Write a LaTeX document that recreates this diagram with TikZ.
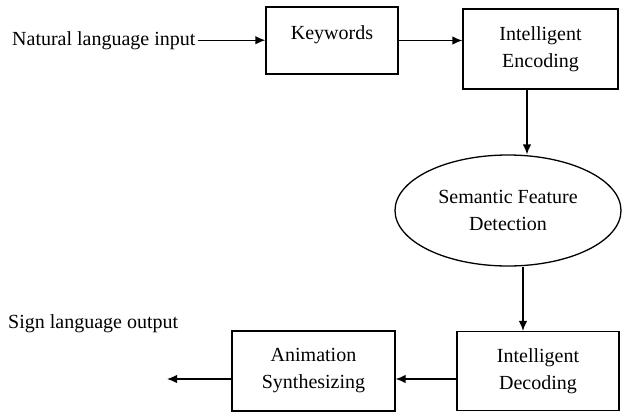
\documentclass[tikz,border=0pt]{standalone}
\usepackage{fontspec}
\setmainfont{Liberation Serif}
\usetikzlibrary{arrows.meta,shapes.geometric}
\begin{document}
\begin{tikzpicture}[x=1pt,y=-1pt,
  every node/.style={font=\fontsize{20}{27}\selectfont},
  box/.style={draw,line width=1.3pt,rectangle,inner sep=0pt,align=center},
  oval/.style={draw,line width=1.3pt,ellipse,inner sep=0pt,align=center},
  lbl/.style={inner sep=2pt},
  arr/.style={line width=1.3pt,-{Latex[length=10pt,width=8.5pt]}}]
\useasboundingbox (0,0) rectangle (622,416);
\node[lbl,anchor=base west] (nat) at (10,45) {Natural language input};
\node[box,minimum width=132pt,text height=32pt,text depth=35pt] (kw) at (332,40.5) {Keywords};
\node[box,minimum width=155pt,minimum height=80pt] (enc) at (540.5,49) {Intelligent\\Encoding};
\node[oval,minimum width=226pt,minimum height=111pt] (ell) at (508,210.5) {Semantic Feature\\Detection};
\node[box,minimum width=162pt,minimum height=79pt] (dec) at (538,371) {Intelligent\\Decoding};
\node[box,minimum width=163pt,minimum height=80pt] (anim) at (313.5,371) {Animation\\Synthesizing};
\node[lbl,anchor=base west] (sign) at (6,328) {Sign language output};
\coordinate (x1) at (527,0);
\coordinate (x2) at (523,0);
\coordinate (y3) at (0,379);
\coordinate (out) at (167,379);
\draw[arr] (nat.east) -- (kw.west |- nat.east);
\draw[arr] (kw.east) -- (kw.east -| enc.west);
\draw[arr] (enc.south -| x1) -- (ell.north -| x1);
\draw[arr] (ell.south -| x2) -- (dec.north -| x2);
\draw[arr] (dec.west |- y3) -- (anim.east |- y3);
\draw[arr] (anim.west |- y3) -- (out);
\end{tikzpicture}
\end{document}
